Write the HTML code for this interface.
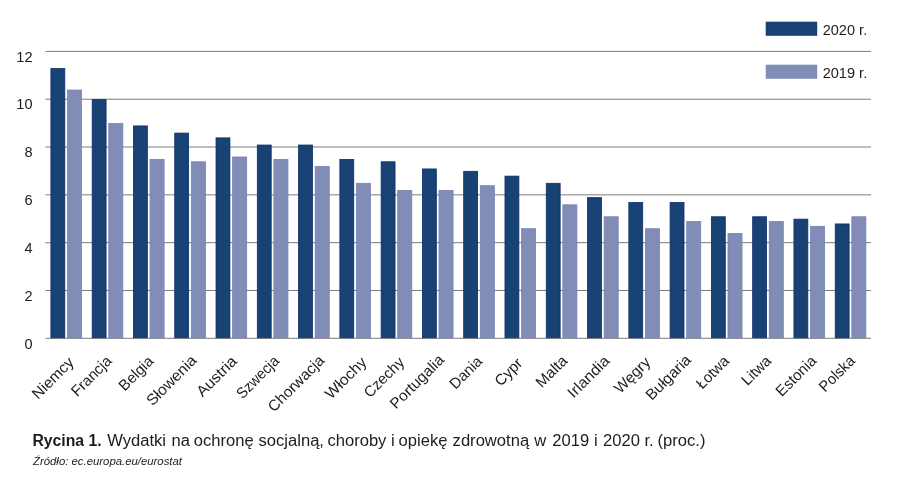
<!DOCTYPE html>
<html lang="pl"><head><meta charset="utf-8"><title>Rycina 1</title>
<style>html,body{margin:0;padding:0;background:#fff}svg{display:block}text{font-family:"Liberation Sans",sans-serif;fill:#1d1d1b}</style></head><body>
<svg width="900" height="489" viewBox="0 0 900 489">
<rect width="900" height="489" fill="#fff"/>
<line x1="45.5" x2="871" y1="51.40" y2="51.40" stroke="#7c7c7c" stroke-width="1"/>
<text transform="translate(32.5,61.60) scale(.94,1)" font-size="15.5" text-anchor="end">12</text>
<line x1="45.5" x2="871" y1="99.22" y2="99.22" stroke="#7c7c7c" stroke-width="1"/>
<text transform="translate(32.5,109.42) scale(.94,1)" font-size="15.5" text-anchor="end">10</text>
<line x1="45.5" x2="871" y1="147.03" y2="147.03" stroke="#7c7c7c" stroke-width="1"/>
<text transform="translate(32.5,157.23) scale(.94,1)" font-size="15.5" text-anchor="end">8</text>
<line x1="45.5" x2="871" y1="194.85" y2="194.85" stroke="#7c7c7c" stroke-width="1"/>
<text transform="translate(32.5,205.05) scale(.94,1)" font-size="15.5" text-anchor="end">6</text>
<line x1="45.5" x2="871" y1="242.67" y2="242.67" stroke="#7c7c7c" stroke-width="1"/>
<text transform="translate(32.5,252.87) scale(.94,1)" font-size="15.5" text-anchor="end">4</text>
<line x1="45.5" x2="871" y1="290.48" y2="290.48" stroke="#7c7c7c" stroke-width="1"/>
<text transform="translate(32.5,300.68) scale(.94,1)" font-size="15.5" text-anchor="end">2</text>
<line x1="45.5" x2="871" y1="338.30" y2="338.30" stroke="#7c7c7c" stroke-width="1"/>
<text transform="translate(32.5,348.50) scale(.94,1)" font-size="15.5" text-anchor="end">0</text>
<rect x="50.90" y="68.54" width="13.9" height="269.26" fill="#194274" stroke="#0d2f68" stroke-width=".8"/>
<rect x="67.50" y="90.05" width="14.05" height="247.75" fill="#818db7" stroke="#7683b1" stroke-width=".8"/>
<text transform="translate(74.80,363.20) rotate(-45) scale(1.030,1)" font-size="15.2" text-anchor="end">Niemcy</text>
<rect x="92.18" y="99.62" width="13.9" height="238.18" fill="#194274" stroke="#0d2f68" stroke-width=".8"/>
<rect x="108.78" y="123.53" width="14.05" height="214.28" fill="#818db7" stroke="#7683b1" stroke-width=".8"/>
<text transform="translate(112.65,361.80) rotate(-45) scale(0.989,1)" font-size="15.2" text-anchor="end">Francja</text>
<rect x="133.46" y="125.92" width="13.9" height="211.88" fill="#194274" stroke="#0d2f68" stroke-width=".8"/>
<rect x="150.06" y="159.39" width="14.05" height="178.41" fill="#818db7" stroke="#7683b1" stroke-width=".8"/>
<text transform="translate(154.30,362.20) rotate(-45) scale(0.986,1)" font-size="15.2" text-anchor="end">Belgia</text>
<rect x="174.74" y="133.09" width="13.9" height="204.71" fill="#194274" stroke="#0d2f68" stroke-width=".8"/>
<rect x="191.34" y="161.78" width="14.05" height="176.02" fill="#818db7" stroke="#7683b1" stroke-width=".8"/>
<text transform="translate(197.55,361.40) rotate(-45) scale(1.036,1)" font-size="15.2" text-anchor="end">Słowenia</text>
<rect x="216.02" y="137.87" width="13.9" height="199.93" fill="#194274" stroke="#0d2f68" stroke-width=".8"/>
<rect x="232.62" y="157.00" width="14.05" height="180.80" fill="#818db7" stroke="#7683b1" stroke-width=".8"/>
<text transform="translate(237.80,362.20) rotate(-45) scale(1.057,1)" font-size="15.2" text-anchor="end">Austria</text>
<rect x="257.30" y="145.04" width="13.9" height="192.76" fill="#194274" stroke="#0d2f68" stroke-width=".8"/>
<rect x="273.90" y="159.39" width="14.05" height="178.41" fill="#818db7" stroke="#7683b1" stroke-width=".8"/>
<text transform="translate(280.05,361.80) rotate(-45) scale(0.940,1)" font-size="15.2" text-anchor="end">Szwecja</text>
<rect x="298.58" y="145.04" width="13.9" height="192.76" fill="#194274" stroke="#0d2f68" stroke-width=".8"/>
<rect x="315.18" y="166.56" width="14.05" height="171.24" fill="#818db7" stroke="#7683b1" stroke-width=".8"/>
<text transform="translate(325.30,361.40) rotate(-45) scale(1.011,1)" font-size="15.2" text-anchor="end">Chorwacja</text>
<rect x="339.86" y="159.39" width="13.9" height="178.41" fill="#194274" stroke="#0d2f68" stroke-width=".8"/>
<rect x="356.46" y="183.30" width="14.05" height="154.50" fill="#818db7" stroke="#7683b1" stroke-width=".8"/>
<text transform="translate(367.55,363.20) rotate(-45) scale(1.039,1)" font-size="15.2" text-anchor="end">Włochy</text>
<rect x="381.14" y="161.78" width="13.9" height="176.02" fill="#194274" stroke="#0d2f68" stroke-width=".8"/>
<rect x="397.74" y="190.47" width="14.05" height="147.33" fill="#818db7" stroke="#7683b1" stroke-width=".8"/>
<text transform="translate(405.20,363.20) rotate(-45) scale(0.986,1)" font-size="15.2" text-anchor="end">Czechy</text>
<rect x="422.42" y="168.95" width="13.9" height="168.85" fill="#194274" stroke="#0d2f68" stroke-width=".8"/>
<rect x="439.02" y="190.47" width="14.05" height="147.33" fill="#818db7" stroke="#7683b1" stroke-width=".8"/>
<text transform="translate(445.05,360.80) rotate(-45) scale(1.012,1)" font-size="15.2" text-anchor="end">Portugalia</text>
<rect x="463.70" y="171.34" width="13.9" height="166.46" fill="#194274" stroke="#0d2f68" stroke-width=".8"/>
<rect x="480.30" y="185.69" width="14.05" height="152.11" fill="#818db7" stroke="#7683b1" stroke-width=".8"/>
<text transform="translate(483.30,362.20) rotate(-45) scale(0.993,1)" font-size="15.2" text-anchor="end">Dania</text>
<rect x="504.98" y="176.12" width="13.9" height="161.68" fill="#194274" stroke="#0d2f68" stroke-width=".8"/>
<rect x="521.58" y="228.72" width="14.05" height="109.08" fill="#818db7" stroke="#7683b1" stroke-width=".8"/>
<text transform="translate(523.35,364.20) rotate(-45) scale(1.000,1)" font-size="15.2" text-anchor="end">Cypr</text>
<rect x="546.26" y="183.30" width="13.9" height="154.50" fill="#194274" stroke="#0d2f68" stroke-width=".8"/>
<rect x="562.86" y="204.81" width="14.05" height="132.99" fill="#818db7" stroke="#7683b1" stroke-width=".8"/>
<text transform="translate(568.40,361.80) rotate(-45) scale(1.013,1)" font-size="15.2" text-anchor="end">Malta</text>
<rect x="587.54" y="197.64" width="13.9" height="140.16" fill="#194274" stroke="#0d2f68" stroke-width=".8"/>
<rect x="604.14" y="216.77" width="14.05" height="121.03" fill="#818db7" stroke="#7683b1" stroke-width=".8"/>
<text transform="translate(610.45,361.80) rotate(-45) scale(1.049,1)" font-size="15.2" text-anchor="end">Irlandia</text>
<rect x="628.82" y="202.42" width="13.9" height="135.38" fill="#194274" stroke="#0d2f68" stroke-width=".8"/>
<rect x="645.42" y="228.72" width="14.05" height="109.08" fill="#818db7" stroke="#7683b1" stroke-width=".8"/>
<text transform="translate(651.30,363.20) rotate(-45) scale(1.002,1)" font-size="15.2" text-anchor="end">Węgry</text>
<rect x="670.10" y="202.42" width="13.9" height="135.38" fill="#194274" stroke="#0d2f68" stroke-width=".8"/>
<rect x="686.70" y="221.55" width="14.05" height="116.25" fill="#818db7" stroke="#7683b1" stroke-width=".8"/>
<text transform="translate(691.95,360.80) rotate(-45) scale(1.019,1)" font-size="15.2" text-anchor="end">Bułgaria</text>
<rect x="711.38" y="216.77" width="13.9" height="121.03" fill="#194274" stroke="#0d2f68" stroke-width=".8"/>
<rect x="727.98" y="233.50" width="14.05" height="104.30" fill="#818db7" stroke="#7683b1" stroke-width=".8"/>
<text transform="translate(730.20,361.90) rotate(-45) scale(0.975,1)" font-size="15.2" text-anchor="end">Łotwa</text>
<rect x="752.66" y="216.77" width="13.9" height="121.03" fill="#194274" stroke="#0d2f68" stroke-width=".8"/>
<rect x="769.26" y="221.55" width="14.05" height="116.25" fill="#818db7" stroke="#7683b1" stroke-width=".8"/>
<text transform="translate(772.05,361.80) rotate(-45) scale(0.975,1)" font-size="15.2" text-anchor="end">Litwa</text>
<rect x="793.94" y="219.16" width="13.9" height="118.64" fill="#194274" stroke="#0d2f68" stroke-width=".8"/>
<rect x="810.54" y="226.33" width="14.05" height="111.47" fill="#818db7" stroke="#7683b1" stroke-width=".8"/>
<text transform="translate(817.30,361.80) rotate(-45) scale(0.989,1)" font-size="15.2" text-anchor="end">Estonia</text>
<rect x="835.22" y="223.94" width="13.9" height="113.86" fill="#194274" stroke="#0d2f68" stroke-width=".8"/>
<rect x="851.82" y="216.77" width="14.05" height="121.03" fill="#818db7" stroke="#7683b1" stroke-width=".8"/>
<text transform="translate(855.95,361.80) rotate(-45) scale(0.959,1)" font-size="15.2" text-anchor="end">Polska</text>
<rect x="765.7" y="21.7" width="51.5" height="14.1" fill="#194274"/>
<rect x="765.7" y="64.7" width="51.5" height="14.1" fill="#818db7"/>
<text x="822.7" y="34.9" font-size="15.2" textLength="44.5" lengthAdjust="spacingAndGlyphs">2020 r.</text>
<text x="822.7" y="77.9" font-size="15.2" textLength="44.5" lengthAdjust="spacingAndGlyphs">2019 r.</text>
<text transform="translate(67.00,446.4) scale(.985,1)" font-size="16" font-weight="bold" text-anchor="middle">Rycina 1.</text>
<text transform="translate(136.60,446.3) scale(1.064,1)" font-size="15.6" text-anchor="middle">Wydatki</text>
<text transform="translate(180.70,446.3) scale(1.064,1)" font-size="15.6" text-anchor="middle">na</text>
<text transform="translate(223.65,446.3) scale(1.064,1)" font-size="15.6" text-anchor="middle">ochronę</text>
<text transform="translate(291.25,446.3) scale(1.064,1)" font-size="15.6" text-anchor="middle">socjalną,</text>
<text transform="translate(356.90,446.3) scale(1.064,1)" font-size="15.6" text-anchor="middle">choroby</text>
<text transform="translate(392.95,446.3) scale(1.064,1)" font-size="15.6" text-anchor="middle">i</text>
<text transform="translate(423.00,446.3) scale(1.064,1)" font-size="15.6" text-anchor="middle">opiekę</text>
<text transform="translate(490.85,446.3) scale(1.064,1)" font-size="15.6" text-anchor="middle">zdrowotną</text>
<text transform="translate(540.35,446.3) scale(1.064,1)" font-size="15.6" text-anchor="middle">w</text>
<text transform="translate(570.80,446.3) scale(1.064,1)" font-size="15.6" text-anchor="middle">2019</text>
<text transform="translate(595.75,446.3) scale(1.064,1)" font-size="15.6" text-anchor="middle">i</text>
<text transform="translate(621.50,446.3) scale(1.064,1)" font-size="15.6" text-anchor="middle">2020</text>
<text transform="translate(649.00,446.3) scale(1.064,1)" font-size="15.6" text-anchor="middle">r.</text>
<text transform="translate(681.50,446.3) scale(1.064,1)" font-size="15.6" text-anchor="middle">(proc.)</text>
<text x="33" y="465.4" font-size="10.6" font-style="italic" textLength="149" lengthAdjust="spacingAndGlyphs">Źródło: ec.europa.eu/eurostat</text>
</svg></body></html>
